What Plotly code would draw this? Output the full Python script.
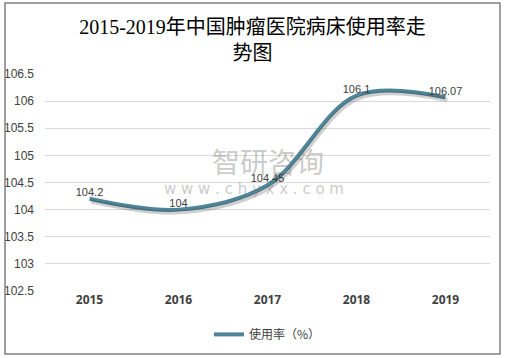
import plotly.graph_objects as go

years = ["2015", "2016", "2017", "2018", "2019"]
rates = [104.2, 104.0, 104.45, 106.1, 106.07]
labels = ["104.2", "104", "104.45", "106.1", "106.07"]
y_ticks = [102.5, 103, 103.5, 104, 104.5, 105, 105.5, 106, 106.5]
y_tick_text = ["102.5", "103", "103.5", "104", "104.5", "105", "105.5", "106", "106.5"]

fig = go.Figure()
# soft drop shadow: same data on overlaying axes whose ranges are nudged slightly
fig.add_trace(go.Scatter(
    x=years, y=rates, mode="lines", showlegend=False, hoverinfo="skip",
    line=dict(color="rgba(40,40,40,0.22)", width=4, shape="spline", smoothing=1.0),
    xaxis="x2", yaxis="y2",
))
fig.add_trace(go.Scatter(
    x=years, y=rates, mode="lines+text", name="使用率（%）",
    line=dict(color="#4e8498", width=4, shape="spline", smoothing=1.0),
    text=labels, textposition="top center",
    textfont=dict(size=11, color="#404040", family="Liberation Sans, Noto Sans CJK SC"),
    cliponaxis=False,
))

fig.update_layout(
    width=505, height=358, autosize=False,
    margin=dict(l=45, r=15, t=74, b=67, autoexpand=False),
    paper_bgcolor="white", plot_bgcolor="white",
    title=dict(text="2015-2019年中国肿瘤医院病床使用率走<br>势图",
               x=0.5, xanchor="center", y=0.905, yanchor="middle", automargin=False,
               font=dict(size=20, color="#000000", family="Liberation Serif, Noto Sans CJK SC")),
    xaxis=dict(type="category", range=[-0.5, 4.5], showgrid=False, showline=False,
               ticks="", automargin=False,
               tickfont=dict(size=12, color="#404040", family="Open Sans", weight="bold")),
    yaxis=dict(range=[102.5, 106.5], tickvals=y_ticks, ticktext=y_tick_text, automargin=False,
               showgrid=True, gridcolor="#d9d9d9", gridwidth=1, zeroline=False,
               showline=False, ticks="", ticklabelstandoff=10,
               tickfont=dict(size=12, color="#404040", family="Liberation Sans")),
    xaxis2=dict(type="category", overlaying="x", range=[-0.52, 4.48], visible=False),
    yaxis2=dict(overlaying="y", range=[102.55, 106.55], visible=False),
    showlegend=True,
    legend=dict(orientation="h", x=0.5, xanchor="center", y=-0.2, yanchor="middle",
                font=dict(size=12, color="#404040", family="Noto Sans CJK SC")),
    shapes=[dict(type="rect", xref="paper", yref="paper",
                 x0=-0.0899, x1=1.0225, y0=-0.29, y1=1.327,
                 line=dict(color="#808080", width=1.5), fillcolor="rgba(0,0,0,0)")],
    annotations=[
        dict(text="智研咨询", x=0.50, y=0.60, xref="paper", yref="paper", showarrow=False,
             font=dict(size=28, color="rgba(120,120,120,0.4)", family="Noto Sans CJK SC")),
        dict(text="w w w . c h y x x . c o m", x=0.47, y=0.47, xref="paper", yref="paper",
             showarrow=False,
             font=dict(size=15, color="rgba(120,120,120,0.4)", family="DejaVu Sans")),
    ],
)

fig.write_html("out.html", config={"displayModeBar": False},
               post_script="document.body.style.margin='0';")
